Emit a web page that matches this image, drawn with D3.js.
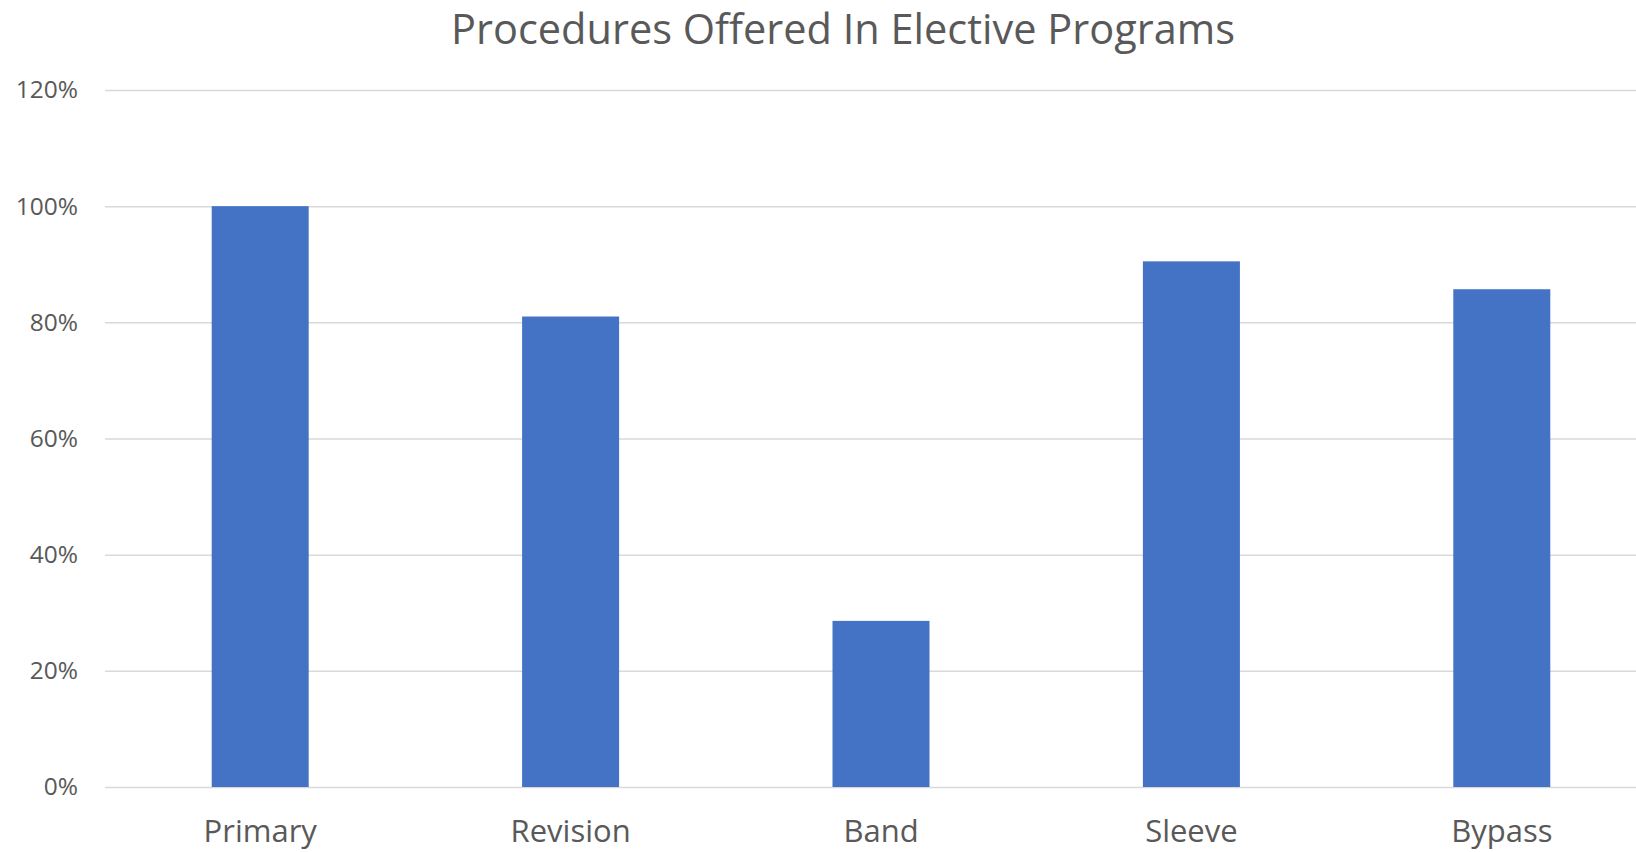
<!DOCTYPE html>
<html>
<head>
<meta charset="utf-8">
<script src="https://cdn.jsdelivr.net/npm/d3@7"></script>
<style>
  body { margin: 0; background: #fff; }
  svg { display: block; overflow: hidden; font-family: "Open Sans", sans-serif; }
</style>
</head>
<body>
<svg width="1636" height="852"></svg>
<script>
// chart data
const procedures = ['Primary', 'Revision', 'Band', 'Sleeve', 'Bypass'];
const offeredShare = [1.0, 0.81, 0.286, 0.905, 0.857];
const yTicks = [0, 0.2, 0.4, 0.6, 0.8, 1.0, 1.2];
const chartTitle = 'Procedures Offered In Elective Programs';

const svg = d3.select('svg');
const W = 1636, H = 852;

// plot area runs past the right edge, like the cropped original
const chartMargins = { left: 105, right: -21, top: 90, bottom: 65 };
const w = W - chartMargins.left - chartMargins.right;
const h = H - chartMargins.top - chartMargins.bottom;

const yScale = d3.scaleLinear()
    .domain([0, 1.2])
    .range([h, 0]);

const xScale = d3.scaleBand()
    .domain(procedures)
    .range([0, w])
    .paddingInner(0.6875)
    .paddingOuter(0.34375);

svg.append('text')
    .attr('x', 843)
    .attr('y', 44)
    .attr('text-anchor', 'middle')
    .attr('fill', '#595959')
    .style('font-size', '41.5px')
    .text(chartTitle);

const chartGroup = svg.append('g')
    .attr('transform', `translate(${chartMargins.left},${chartMargins.top})`);

// y axis + gridlines
const yAxis = d3.axisLeft(yScale)
    .tickValues(yTicks)
    .tickFormat(d3.format('.0%'))
    .tickSize(-w)
    .tickPadding(27);

const yG = chartGroup.append('g')
    .classed('axis y', true)
    .call(yAxis);
yG.select('.domain').remove();
yG.selectAll('line')
    .attr('stroke', '#d9d9d9')
    .attr('stroke-width', 1.5);
yG.selectAll('text')
    .attr('fill', '#595959')
    .style('font-family', '"Open Sans", sans-serif')
    .style('font-size', '24.5px');

// bars
chartGroup.selectAll('rect.bar')
    .data(procedures)
    .enter()
    .append('rect')
    .classed('bar', true)
    .attr('x', d => xScale(d))
    .attr('width', xScale.bandwidth())
    .attr('y', (d, i) => yScale(offeredShare[i]))
    .attr('height', (d, i) => h - yScale(offeredShare[i]))
    .attr('fill', '#4472c4');

// x axis labels
const xAxis = d3.axisBottom(xScale).tickSize(0);
const xG = chartGroup.append('g')
    .attr('transform', `translate(0,${h})`)
    .classed('axis x', true)
    .call(xAxis);
xG.select('.domain').remove();
xG.selectAll('text')
    .attr('y', 55)
    .attr('dy', 0)
    .attr('fill', '#595959')
    .style('font-family', '"Open Sans", sans-serif')
    .style('font-size', '31px');
</script>
</body>
</html>
